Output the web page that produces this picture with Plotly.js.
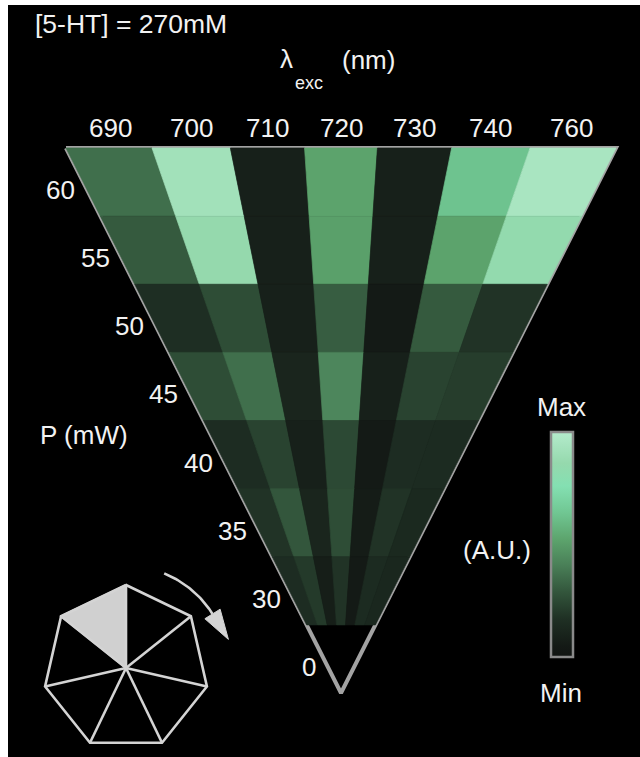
<!DOCTYPE html>
<html><head><meta charset="utf-8">
<script src="https://cdn.plot.ly/plotly-3.0.1.min.js"></script>
<style>html,body{margin:0;padding:0;background:#fff}#chart{width:640px;height:757px}</style>
</head><body><div id="chart"></div>
<script>
// ---------------- data ----------------
const wavelengths = [690, 700, 710, 720, 730, 740, 760];   // λexc (nm), columns
const powers = [60, 55, 50, 45, 40, 35, 30];               // P (mW), rows top -> bottom
const apexLabel = '0';
// fluorescence intensity (A.U., 0 = Min, 1 = Max); one array per power, columns follow wavelengths
const row60 = [0.36, 0.92, 0.08, 0.52, 0.08, 0.63, 0.95];
const row55 = [0.30, 0.86, 0.08, 0.51, 0.08, 0.52, 0.85];
const row50 = [0.16, 0.26, 0.08, 0.31, 0.05, 0.30, 0.18];
const row45 = [0.26, 0.36, 0.11, 0.43, 0.08, 0.23, 0.21];
const row40 = [0.15, 0.23, 0.08, 0.25, 0.05, 0.15, 0.14];
const row35 = [0.18, 0.29, 0.11, 0.26, 0.06, 0.18, 0.13];
const row30 = [0.15, 0.20, 0.07, 0.18, 0.05, 0.14, 0.12];
const intensity = [row60, row55, row50, row45, row40, row35, row30];
const colorscale = [
  [0.00, '#111412'], [0.05, '#141a16'], [0.17, '#1f3024'], [0.29, '#33563c'],
  [0.41, '#4a8058'], [0.52, '#5ca36c'], [0.64, '#70c692'], [0.76, '#84e0b2'],
  [0.86, '#95d9ad'], [1.00, '#b4ebcc']
];

// ---------------- geometry (layout only) ----------------
const K = 68.125, APX = 341, APY = 693;     // px per row unit, apex position in px
const TAN_HALF = 0.5046;
const HALF = Math.atan(TAN_HALF);
const NC = wavelengths.length, NR = powers.length;
const TOP = NR + 1;                          // one empty unit at the apex ("0")
const WEDGE = 2 * HALF / NC;
const edgeAngle = j => -HALF + j * WEDGE;
const xAt = (y, a) => y * Math.tan(a);

function hexToRgb(h) { h = h.replace('#', ''); return [0, 2, 4].map(i => parseInt(h.substr(i, 2), 16)); }
function colorAt(v) {
  v = Math.max(0, Math.min(1, v));
  for (let i = 1; i < colorscale.length; i++) {
    if (v <= colorscale[i][0]) {
      const [v0, c0] = colorscale[i - 1], [v1, c1] = colorscale[i];
      const t = (v - v0) / (v1 - v0 || 1);
      const a = hexToRgb(c0), b = hexToRgb(c1);
      const c = a.map((x, k) => Math.round(x + (b[k] - x) * t));
      return 'rgb(' + c.join(',') + ')';
    }
  }
  return colorscale[colorscale.length - 1][1];
}

const traces = [];
// triangle outline (drawn first; cells cover its inner half)
traces.push({
  type: 'scatter', mode: 'lines', hoverinfo: 'skip', showlegend: false,
  x: [xAt(TOP, -HALF), xAt(TOP, HALF), 0, xAt(TOP, -HALF)], y: [TOP, TOP, 0, TOP],
  line: { color: '#a3a3a3', width: 4, join: 'miter' }
});
// cells
const cx = [], cy = [], cv = [], ct = [];
for (let r = 0; r < NR; r++) {
  for (let c = 0; c < NC; c++) {
    const y1 = TOP - r, y0 = y1 - 1;
    const a0 = edgeAngle(c), a1 = edgeAngle(c + 1);
    const col = colorAt(intensity[r][c]);
    traces.push({
      type: 'scatter', mode: 'lines', fill: 'toself', fillcolor: col, hoverinfo: 'skip', showlegend: false,
      line: { color: col, width: 0.7 },
      x: [xAt(y0, a0), xAt(y0, a1), xAt(y1, a1), xAt(y1, a0), xAt(y0, a0)],
      y: [y0, y0, y1, y1, y0]
    });
    const ym = (y0 + y1) / 2, am = (a0 + a1) / 2;
    cx.push(xAt(ym, am)); cy.push(ym); cv.push(intensity[r][c]);
    ct.push(wavelengths[c] + ' nm, ' + powers[r] + ' mW');
  }
}
// invisible markers carrying the colour scale + colour bar
traces.push({
  type: 'scatter', mode: 'markers', x: cx, y: cy, text: ct, showlegend: false,
  hovertemplate: '%{text}<br>%{marker.color:.2f} A.U.<extra></extra>',
  marker: {
    size: 30, opacity: 0, color: cv, colorscale: colorscale, cmin: 0, cmax: 1, showscale: true,
    colorbar: {
      thickness: 22, thicknessmode: 'pixels', len: 225, lenmode: 'pixels',
      x: (551 - 8) / 632, xanchor: 'left', y: 1 - (432 - 5) / 752, yanchor: 'top',
      xpad: 0, ypad: 0, outlinewidth: 2.5, outlinecolor: '#8a8a8a',
      showticklabels: false, ticks: '', borderwidth: 0, bgcolor: 'rgba(0,0,0,0)'
    }
  }
});

// ---------------- heptagon icon (pixel axes x2/y2) ----------------
const HC = [126, 668], HR = 83, NV = 7;
const verts = [];
for (let k = 0; k < NV; k++) {
  const a = k * 2 * Math.PI / NV;
  verts.push([HC[0] + HR * Math.sin(a), HC[1] - HR * Math.cos(a)]);
}
const iconCol = '#d4d4d4';
traces.push({
  type: 'scatter', mode: 'lines', xaxis: 'x2', yaxis: 'y2', fill: 'toself', fillcolor: '#d0d0d0',
  line: { color: iconCol, width: 2 }, hoverinfo: 'skip', showlegend: false,
  x: [HC[0], verts[0][0], verts[NV - 1][0], HC[0]], y: [HC[1], verts[0][1], verts[NV - 1][1], HC[1]]
});
const hx = [], hy = [];
verts.concat([verts[0]]).forEach(v => { hx.push(v[0]); hy.push(v[1]); });
verts.forEach(v => { hx.push(null, HC[0], v[0]); hy.push(null, HC[1], v[1]); });
traces.push({
  type: 'scatter', mode: 'lines', xaxis: 'x2', yaxis: 'y2', hoverinfo: 'skip', showlegend: false,
  line: { color: iconCol, width: 2.6, join: 'miter' }, x: hx, y: hy
});
// rotation arrow
const AR = 102, aStart = 22 * Math.PI / 180, aEnd = 58 * Math.PI / 180;
const ax = [], ay = [];
for (let i = 0; i <= 30; i++) {
  const a = aStart + (aEnd - aStart) * i / 30;
  ax.push(HC[0] + AR * Math.sin(a)); ay.push(HC[1] - AR * Math.cos(a));
}
traces.push({
  type: 'scatter', mode: 'lines', xaxis: 'x2', yaxis: 'y2', hoverinfo: 'skip', showlegend: false,
  line: { color: iconCol, width: 2.6 }, x: ax, y: ay
});
const ex = ax[ax.length - 1], ey = ay[ay.length - 1];
const tx = Math.cos(aEnd), ty = Math.sin(aEnd);        // tangent (clockwise, y down)
const HL = 30, HW = 9;
traces.push({
  type: 'scatter', mode: 'lines', xaxis: 'x2', yaxis: 'y2', fill: 'toself', fillcolor: iconCol,
  line: { color: iconCol, width: 1 }, hoverinfo: 'skip', showlegend: false,
  x: [ex - HW * ty, ex + HL * tx, ex + HW * ty, ex - HW * ty],
  y: [ey + HW * tx, ey + HL * ty, ey - HW * tx, ey + HW * tx]
});

// ---------------- annotations ----------------
const FONT = 'Arial, "Liberation Sans", Helvetica, sans-serif';
const TXT = '#f2f2f2';
const ann = [];
function pxText(text, x, y, xanchor, size) {
  ann.push({ xref: 'x2', yref: 'y2', x: x, y: y, text: text, showarrow: false,
    xanchor: xanchor || 'center', yanchor: 'middle', font: { family: FONT, size: size || 26, color: TXT } });
}
// column labels at wedge centres above the top edge
wavelengths.forEach((w, c) => {
  const am = edgeAngle(c) + WEDGE / 2;
  ann.push({ xref: 'x', yref: 'y', x: xAt(TOP, am), y: TOP, yshift: 20, text: String(w), showarrow: false,
    xanchor: 'center', yanchor: 'middle', font: { family: FONT, size: 26, color: TXT } });
});
// row labels along the left edge
const rowLabels = powers.map(String).concat([apexLabel]);
rowLabels.forEach((lab, r) => {
  const yl = TOP - r - 0.5 - 8 / K;
  ann.push({ xref: 'x', yref: 'y', x: xAt(yl, -HALF), y: yl, xshift: -10, text: lab, showarrow: false,
    xanchor: 'right', yanchor: 'middle', font: { family: FONT, size: 26, color: TXT } });
});
pxText('[5-HT] = 270mM', 33, 24, 'left', 26.5);
pxText('λ', 286, 59, 'center');
pxText('exc', 293, 83, 'left', 18);
pxText('(nm)', 340, 60, 'left');
pxText('P (mW)', 84, 435, 'center');
pxText('Max', 561, 407, 'center');
pxText('Min', 561, 693, 'center');
pxText('(A.U.)', 497, 550, 'center');

const layout = {
  width: 640, height: 757, margin: { l: 8, r: 0, t: 5, b: 0, pad: 0 },
  paper_bgcolor: '#ffffff', plot_bgcolor: '#000000', showlegend: false,
  font: { family: FONT, color: TXT, size: 26 },
  xaxis: { range: [(8 - APX) / K, (640 - APX) / K], visible: false, fixedrange: true },
  yaxis: { range: [(APY - 757) / K, (APY - 5) / K], visible: false, fixedrange: true },
  xaxis2: { range: [8, 640], overlaying: 'x', anchor: 'y2', visible: false, fixedrange: true },
  yaxis2: { range: [757, 5], overlaying: 'y', anchor: 'x2', visible: false, fixedrange: true },
  annotations: ann
};
Plotly.newPlot('chart', traces, layout, { displayModeBar: false, responsive: false });
</script></body></html>
